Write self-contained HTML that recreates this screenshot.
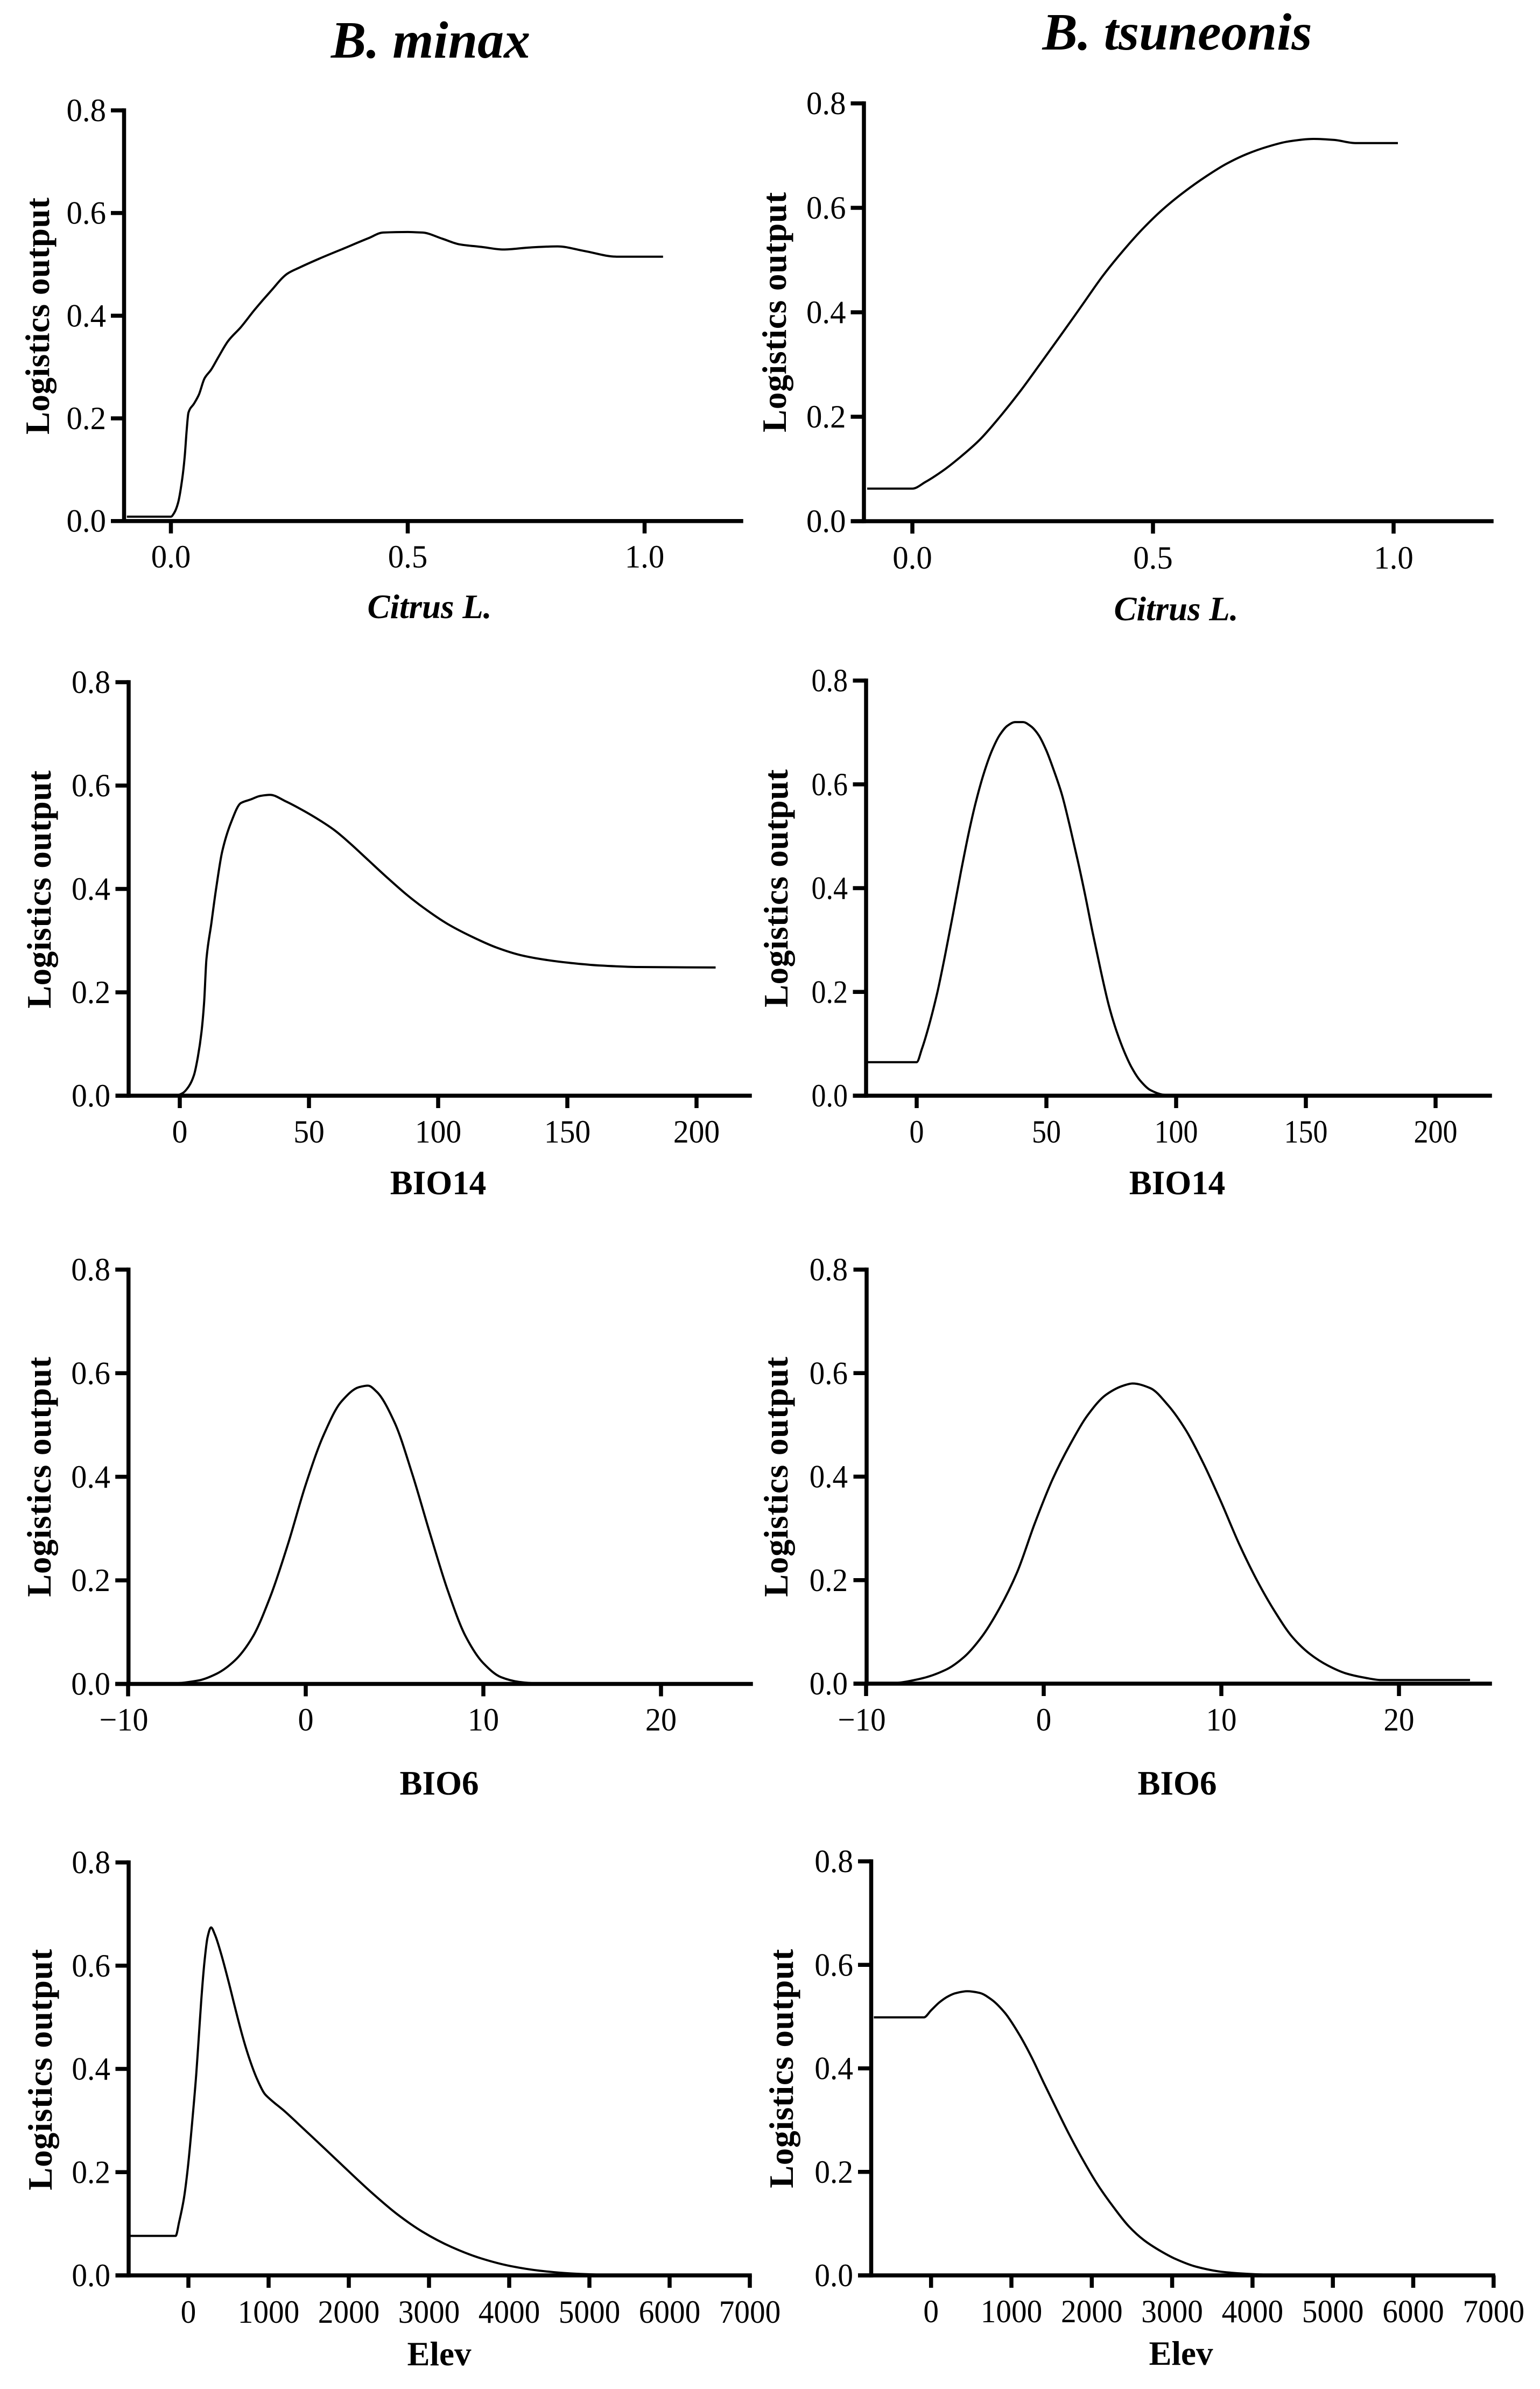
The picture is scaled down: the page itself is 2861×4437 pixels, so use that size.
<!DOCTYPE html>
<html lang="en">
<head>
<meta charset="utf-8">
<title>Response curves of B. minax and B. tsuneonis</title>
<style>
html,body{margin:0;padding:0;background:#fff;}
svg{display:block;}
text{font-family:"Liberation Serif",serif;fill:#000;}
.h{font-size:98px;font-weight:bold;font-style:italic;text-anchor:middle;}
.t{font-size:63px;font-weight:bold;text-anchor:middle;}
.ti{font-size:63px;font-weight:bold;font-style:italic;text-anchor:middle;}
</style>
</head>
<body>
<svg id="figure" xmlns="http://www.w3.org/2000/svg" width="2861" height="4437" viewBox="0 0 2861 4437">
  <rect width="2861" height="4437" fill="#fff"/>
  <text class="h" x="800" y="107">B. minax</text>
  <text class="h" x="2187" y="92">B. tsuneonis</text>

  <g id="minax-citrus">
    <text class="t" textLength="440" transform="translate(91,587) rotate(-90)">Logistics output</text>
    <text class="ti" x="798" y="1148">Citrus L.</text>
  </g>
  <g id="tsuneonis-citrus">
    <text class="t" textLength="446" transform="translate(1460,580) rotate(-90)">Logistics output</text>
    <text class="ti" x="2185" y="1152">Citrus L.</text>
  </g>
  <g id="minax-bio14">
    <text class="t" textLength="442" transform="translate(94,1652) rotate(-90)">Logistics output</text>
    <text class="t" x="814" y="2218">BIO14</text>
  </g>
  <g id="tsuneonis-bio14">
    <text class="t" textLength="442" transform="translate(1463,1650) rotate(-90)">Logistics output</text>
    <text class="t" x="2187" y="2218">BIO14</text>
  </g>
  <g id="minax-bio6">
    <text class="t" textLength="446" transform="translate(94,2743) rotate(-90)">Logistics output</text>
    <text class="t" x="816" y="3333">BIO6</text>
  </g>
  <g id="tsuneonis-bio6">
    <text class="t" textLength="446" transform="translate(1463,2743) rotate(-90)">Logistics output</text>
    <text class="t" x="2187" y="3333">BIO6</text>
  </g>
  <g id="minax-elev">
    <text class="t" textLength="448" transform="translate(96,3844) rotate(-90)">Logistics output</text>
    <text class="t" x="816" y="4393">Elev</text>
  </g>
  <g id="tsuneonis-elev">
    <text class="t" textLength="444" transform="translate(1473,3842) rotate(-90)">Logistics output</text>
    <text class="t" x="2194" y="4392">Elev</text>
  </g>
</svg>
<script>
// Shared tick labels
const yTicks = [0, 0.2, 0.4, 0.6, 0.8];
const citrusTicks = [0, 0.5, 1];
const bio14Ticks = [0, 50, 100, 150, 200];
const bio6Ticks = [-10, 0, 10, 20];
const elevTicks = [0, 1000, 2000, 3000, 4000, 5000, 6000, 7000];

// B. minax, Citrus L.
const minaxCitrusX = [-0.093,0,0.007,0.015,0.023,0.029,0.033,0.037,0.049,0.059,0.071,0.085,0.1,0.121,0.147,0.178,0.21,0.246,0.272,0.313,0.365,0.417,0.448,0.5,0.531,0.573,0.609,0.656,0.702,0.759,0.816,0.873,0.941,1.039];
const minaxCitrusY = [0.0085,0.0085,0.016,0.035,0.076,0.124,0.173,0.211,0.229,0.246,0.278,0.295,0.319,0.351,0.377,0.413,0.447,0.482,0.494,0.511,0.531,0.551,0.562,0.563,0.562,0.55,0.539,0.534,0.529,0.533,0.535,0.526,0.515,0.515];

// B. tsuneonis, Citrus L.
const tsuneonisCitrusX = [-0.094,0,0.027,0.064,0.096,0.139,0.182,0.225,0.267,0.31,0.353,0.396,0.439,0.481,0.524,0.567,0.61,0.652,0.695,0.738,0.781,0.834,0.877,0.92,1.009];
const tsuneonisCitrusY = [0.0624,0.0624,0.075,0.097,0.12,0.155,0.2,0.25,0.303,0.358,0.414,0.47,0.519,0.562,0.6,0.632,0.66,0.684,0.703,0.717,0.727,0.732,0.73,0.724,0.724];

// B. minax, BIO14
const minaxBio14X = [-19.8,-1.1,1.1,3.6,5.5,7,8.4,9.4,10.3,12.2,14.1,16.4,19.8,23.6,27.4,31.2,35,40.8,48.4,54.1,59.8,65.5,73.1,80.7,88.3,95.9,103.4,112.9,122.4,131.9,141.4,150.9,162.3,177.5,207.4];
const minaxBio14Y = [0.001,0.001,0.005,0.019,0.04,0.075,0.123,0.179,0.263,0.333,0.402,0.472,0.528,0.566,0.573,0.58,0.582,0.57,0.55,0.533,0.514,0.49,0.455,0.42,0.387,0.358,0.333,0.308,0.287,0.272,0.263,0.257,0.252,0.249,0.248];

// B. tsuneonis, BIO14
const tsuneonisBio14X = [-19.3,0,2,5,8,11,14,17,20,23,26,29,32,35,38,41,44,47,50,53,56,59,62,65,68,71,74,77,80,83,86,90,95,100,207];
const tsuneonisBio14Y = [0.0646,0.0646,0.09,0.14,0.2,0.272,0.35,0.43,0.505,0.57,0.623,0.665,0.695,0.713,0.72,0.72,0.712,0.695,0.665,0.625,0.58,0.52,0.455,0.385,0.31,0.24,0.175,0.125,0.085,0.053,0.03,0.011,0.002,0,0];

// B. minax, BIO6
const minaxBio6X = [-10,-7.5,-6,-5,-4,-3,-2,-1,0,1,2,3,3.5,4,5,6,7,8,9,10,11,12,13,14,22];
const minaxBio6Y = [0,0.001,0.007,0.02,0.045,0.09,0.168,0.27,0.385,0.48,0.545,0.573,0.576,0.564,0.505,0.405,0.29,0.18,0.092,0.04,0.013,0.004,0.001,0,0];

// B. tsuneonis, BIO6
const tsuneonisBio6X = [-10,-8.5,-7,-5.5,-4.5,-3.5,-2.5,-1.5,-0.5,0.5,1.5,2.5,3.5,4.5,5,6,7,8,9,10,11,12,13,14,15,16,17,18,19,24];
const tsuneonisBio6Y = [0,0.001,0.009,0.027,0.051,0.09,0.145,0.215,0.31,0.395,0.463,0.52,0.558,0.576,0.58,0.571,0.538,0.49,0.425,0.35,0.27,0.2,0.14,0.09,0.057,0.035,0.02,0.012,0.007,0.007];

// B. minax, Elev
const minaxElevX = [-728,-159,-116,-55,-6,49,98,129,159,202,239,282,331,404,496,588,679,771,863,950,1000,1200,1415,1690,1996,2302,2608,2914,3281,3649,4017,4384,4751,5241,6221];
const minaxElevY = [0.0766,0.0766,0.103,0.15,0.21,0.3,0.39,0.46,0.53,0.61,0.655,0.674,0.66,0.625,0.572,0.515,0.461,0.415,0.378,0.352,0.344,0.318,0.287,0.247,0.202,0.158,0.118,0.085,0.055,0.033,0.018,0.009,0.004,0.001,0];

// B. tsuneonis, Elev
const tsuneonisElevX = [-712,-90,0,100,200,300,450,600,760,920,1080,1240,1400,1560,1720,1880,2070,2270,2460,2650,2846,3038,3295,3615,3936,4256,5218];
const tsuneonisElevY = [0.4985,0.4985,0.512,0.527,0.538,0.545,0.549,0.546,0.532,0.507,0.47,0.425,0.373,0.322,0.272,0.226,0.176,0.132,0.095,0.068,0.048,0.032,0.017,0.007,0.003,0.001,0];

const panels = [
  {id:'minax-citrus', xs:minaxCitrusX, ys:minaxCitrusY, ticks:citrusTicks, dec:1, left:230.5, right:1377, top:205, bottom:967.7, zero:317.5, ppu:880, xLabelBase:1054, yLabelRight:197, sx:0.98},
  {id:'tsuneonis-citrus', xs:tsuneonisCitrusX, ys:tsuneonisCitrusY, ticks:citrusTicks, dec:1, left:1605, right:2771, top:192, bottom:968, zero:1695, ppu:894, xLabelBase:1056, yLabelRight:1571.5, sx:0.98},
  {id:'minax-bio14', xs:minaxBio14X, ys:minaxBio14Y, ticks:bio14Ticks, dec:0, left:239, right:1393, top:1267, bottom:2035, zero:334, ppu:4.8, xLabelBase:2122, yLabelRight:205, sx:0.96},
  {id:'tsuneonis-bio14', xs:tsuneonisBio14X, ys:tsuneonisBio14Y, ticks:bio14Ticks, dec:0, left:1609, right:2768, top:1264, bottom:2035, zero:1703, ppu:4.82, xLabelBase:2122, yLabelRight:1575, sx:0.9},
  {id:'minax-bio6', xs:minaxBio6X, ys:minaxBio6Y, ticks:bio6Ticks, dec:0, left:238.7, right:1395, top:2358, bottom:3127.5, zero:568, ppu:33, xLabelBase:3214, yLabelRight:205, sx:0.97},
  {id:'tsuneonis-bio6', xs:tsuneonisBio6X, ys:tsuneonisBio6Y, ticks:bio6Ticks, dec:0, left:1610, right:2768, top:2358, bottom:3127, zero:1939, ppu:33, xLabelBase:3214, yLabelRight:1575, sx:0.95},
  {id:'minax-elev', xs:minaxElevX, ys:minaxElevY, ticks:elevTicks, dec:0, left:239, right:1393, top:3459, bottom:4226, zero:350, ppu:0.149, xLabelBase:4314, yLabelRight:205, sx:0.955},
  {id:'tsuneonis-elev', xs:tsuneonisElevX, ys:tsuneonisElevY, ticks:elevTicks, dec:0, left:1618.5, right:2774, top:3457, bottom:4226, zero:1729.7, ppu:0.1493, xLabelBase:4313, yLabelRight:1585, sx:0.955}
];

const SVG_NS = 'http://www.w3.org/2000/svg';
const Y_TICK_LEN = 24.5;
const X_TICK_LEN = 23;
const AXIS_W = 7.5;
const Y_MAX = 0.8;

function xScale(p, v) { return p.zero + v * p.ppu; }
function yScale(p, v) { return p.bottom - (v / Y_MAX) * (p.bottom - p.top); }

function drawRule(parent, x1, y1, x2, y2, name) {
  const el = document.createElementNS(SVG_NS, 'line');
  el.setAttribute('x1', x1);
  el.setAttribute('y1', y1);
  el.setAttribute('x2', x2);
  el.setAttribute('y2', y2);
  el.setAttribute('stroke', '#000');
  el.setAttribute('stroke-width', AXIS_W);
  
  
  parent.appendChild(el);
  return el;
}

function drawLabel(parent, x, y, sx, anchor, str, name) {
  const el = document.createElementNS(SVG_NS, 'text');
  el.setAttribute('transform', 'translate(' + x + ',' + y + ') scale(' + sx + ',1)');
  el.setAttribute('font-size', '60');
  el.setAttribute('text-anchor', anchor);
  
  
  el.textContent = str;
  parent.appendChild(el);
  return el;
}

// Monotone cubic path through the data points
function curvePath(px, py) {
  const n = px.length;
  const slope = [];
  for (let i = 0; i < n - 1; i++) slope.push((py[i + 1] - py[i]) / (px[i + 1] - px[i]));
  const tan = [slope[0]];
  for (let i = 1; i < n - 1; i++) {
    const a = slope[i - 1], b = slope[i];
    if (a * b <= 0) { tan.push(0); continue; }
    const h0 = px[i] - px[i - 1], h1 = px[i + 1] - px[i];
    tan.push((h0 + h1) / ((2 * h1 + h0) / (3 * a) + (h1 + 2 * h0) / (3 * b)));
  }
  tan.push(slope[n - 2]);
  let d = 'M' + px[0].toFixed(1) + ' ' + py[0].toFixed(1);
  for (let i = 0; i < n - 1; i++) {
    const h = (px[i + 1] - px[i]) / 3;
    d += 'C' + (px[i] + h).toFixed(1) + ' ' + (py[i] + tan[i] * h).toFixed(1) + ' ' +
         (px[i + 1] - h).toFixed(1) + ' ' + (py[i + 1] - tan[i + 1] * h).toFixed(1) + ' ' +
         px[i + 1].toFixed(1) + ' ' + py[i + 1].toFixed(1);
  }
  return d;
}

panels.forEach(function (p) {
  const g = document.getElementById(p.id);

  const line = document.createElementNS(SVG_NS, 'path');
  const px = p.xs.map(function (v) { return xScale(p, v); });
  const py = p.ys.map(function (v) { return yScale(p, v); });
  line.setAttribute('d', curvePath(px, py));
  line.setAttribute('fill', 'none');
  line.setAttribute('stroke', '#000');
  line.setAttribute('stroke-width', '4');
  
  
  g.appendChild(line);

  drawRule(g, p.left, p.top - AXIS_W / 2, p.left, p.bottom + AXIS_W / 2, 'y-axis-line');
  drawRule(g, p.left - Y_TICK_LEN, p.bottom, p.right + AXIS_W / 2, p.bottom, 'x-axis-line');

  yTicks.forEach(function (v) {
    const y = yScale(p, v);
    drawRule(g, p.left - Y_TICK_LEN, y, p.left, y, 'y-tick');
    drawLabel(g, p.yLabelRight, y + 20, p.sx, 'end', v.toFixed(1), 'y-tick-label');
  });

  p.ticks.forEach(function (v) {
    const x = xScale(p, v);
    drawRule(g, x, p.bottom, x, p.bottom + X_TICK_LEN, 'x-tick');
    const str = (v < 0 ? '\u2212' : '') + Math.abs(v).toFixed(p.dec);
    const shift = v < 0 ? -8 : 0;
    drawLabel(g, x + shift, p.xLabelBase, p.sx, 'middle', str, 'x-tick-label');
  });
});
</script>
</body>
</html>
